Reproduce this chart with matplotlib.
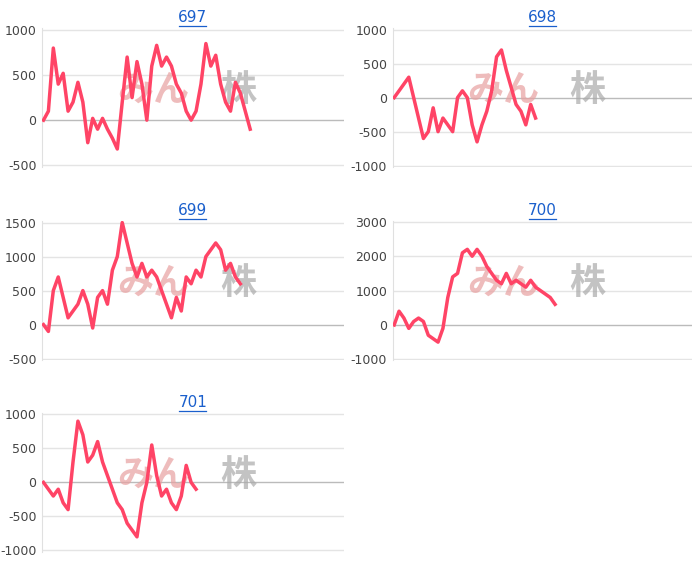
import matplotlib
matplotlib.use("Agg")
import matplotlib.pyplot as plt

names = ["697", "698", "699", "700", "701"]
s697 = [0,100,800,400,520,100,200,420,200,-250,20,-100,20,-100,-200,-320,200,700,250,650,400,0,600,830,600,700,600,400,300,100,0,100,400,850,600,720,400,200,100,420,300,100,-100]
s698 = [0,100,200,300,0,-300,-600,-500,-150,-500,-300,-400,-500,0,100,0,-400,-650,-400,-200,100,600,700,400,150,-100,-200,-400,-100,-300]
s699 = [0,-100,500,700,400,100,200,300,500,300,-50,400,500,300,800,1000,1500,1200,900,700,900,700,800,700,500,300,100,400,200,700,600,800,700,1000,1100,1200,1100,800,900,700,600]
s700 = [0,400,200,-100,100,200,100,-300,-400,-500,-100,800,1400,1500,2100,2200,2000,2200,2000,1700,1500,1300,1200,1500,1200,1300,1200,1100,1300,1100,1000,900,800,600]
s701 = [0,-100,-200,-100,-300,-400,300,900,700,300,400,600,300,100,-100,-300,-400,-600,-700,-800,-300,0,550,100,-200,-100,-300,-400,-200,250,0,-100]
series = [s697, s698, s699, s700, s701]
ylims = [(-500,1000), (-1000,1000), (-500,1500), (-1000,3000), (-1000,1000)]
ysteps = [500, 500, 500, 1000, 500]

pos = [(0.06,0.710,0.431,0.241),(0.561,0.710,0.427,0.241),
       (0.06,0.375,0.431,0.241),(0.561,0.375,0.427,0.241),
       (0.06,0.042,0.431,0.241)]

fig = plt.figure(figsize=(7,5.76), dpi=100)
for name, s, yl, st, p in zip(names, series, ylims, ysteps, pos):
    ax = fig.add_axes(p)
    ax.plot(range(len(s)), s, color="#ff4466", lw=2.5, zorder=3)
    ax.set_xlim(-0.3, 61)
    ax.set_ylim(yl[0]-20, yl[1]+20)
    ticks = list(range(yl[0], yl[1]+1, st))
    ax.set_yticks(ticks)
    ax.set_yticklabels([str(t) for t in ticks])
    ax.set_xticks([])
    for t in ticks:
        ax.axhline(t, color="#bbbbbb" if t == 0 else "#e4e4e4", lw=1, zorder=1)
    for sp in ["top","right","bottom"]:
        ax.spines[sp].set_visible(False)
    ax.spines["left"].set_color("#e0e0e0")
    ax.tick_params(axis="y", length=0, labelsize=9, colors="#444444", pad=4)
    ax.text(0.5, 1.02, name, transform=ax.transAxes, ha="center", va="bottom",
            color="#1a5fcc", fontsize=11)
    ax.plot([0.455,0.545],[1.015,1.015], transform=ax.transAxes, color="#1a5fcc", lw=0.9, clip_on=False)
    ax.text(0.37, 0.55, "みん", transform=ax.transAxes, ha="center", va="center",
            fontsize=26, fontweight="bold", style="italic", color="#e8a0a0", alpha=0.7,
            family=["Noto Sans CJK JP","DejaVu Sans"], zorder=2)
    ax.text(0.65, 0.55, "株", transform=ax.transAxes, ha="center", va="center",
            fontsize=26, fontweight="bold", style="italic", color="#aaaaaa", alpha=0.7,
            family=["Noto Sans CJK JP","DejaVu Sans"], zorder=2)
fig.savefig("out.png")
